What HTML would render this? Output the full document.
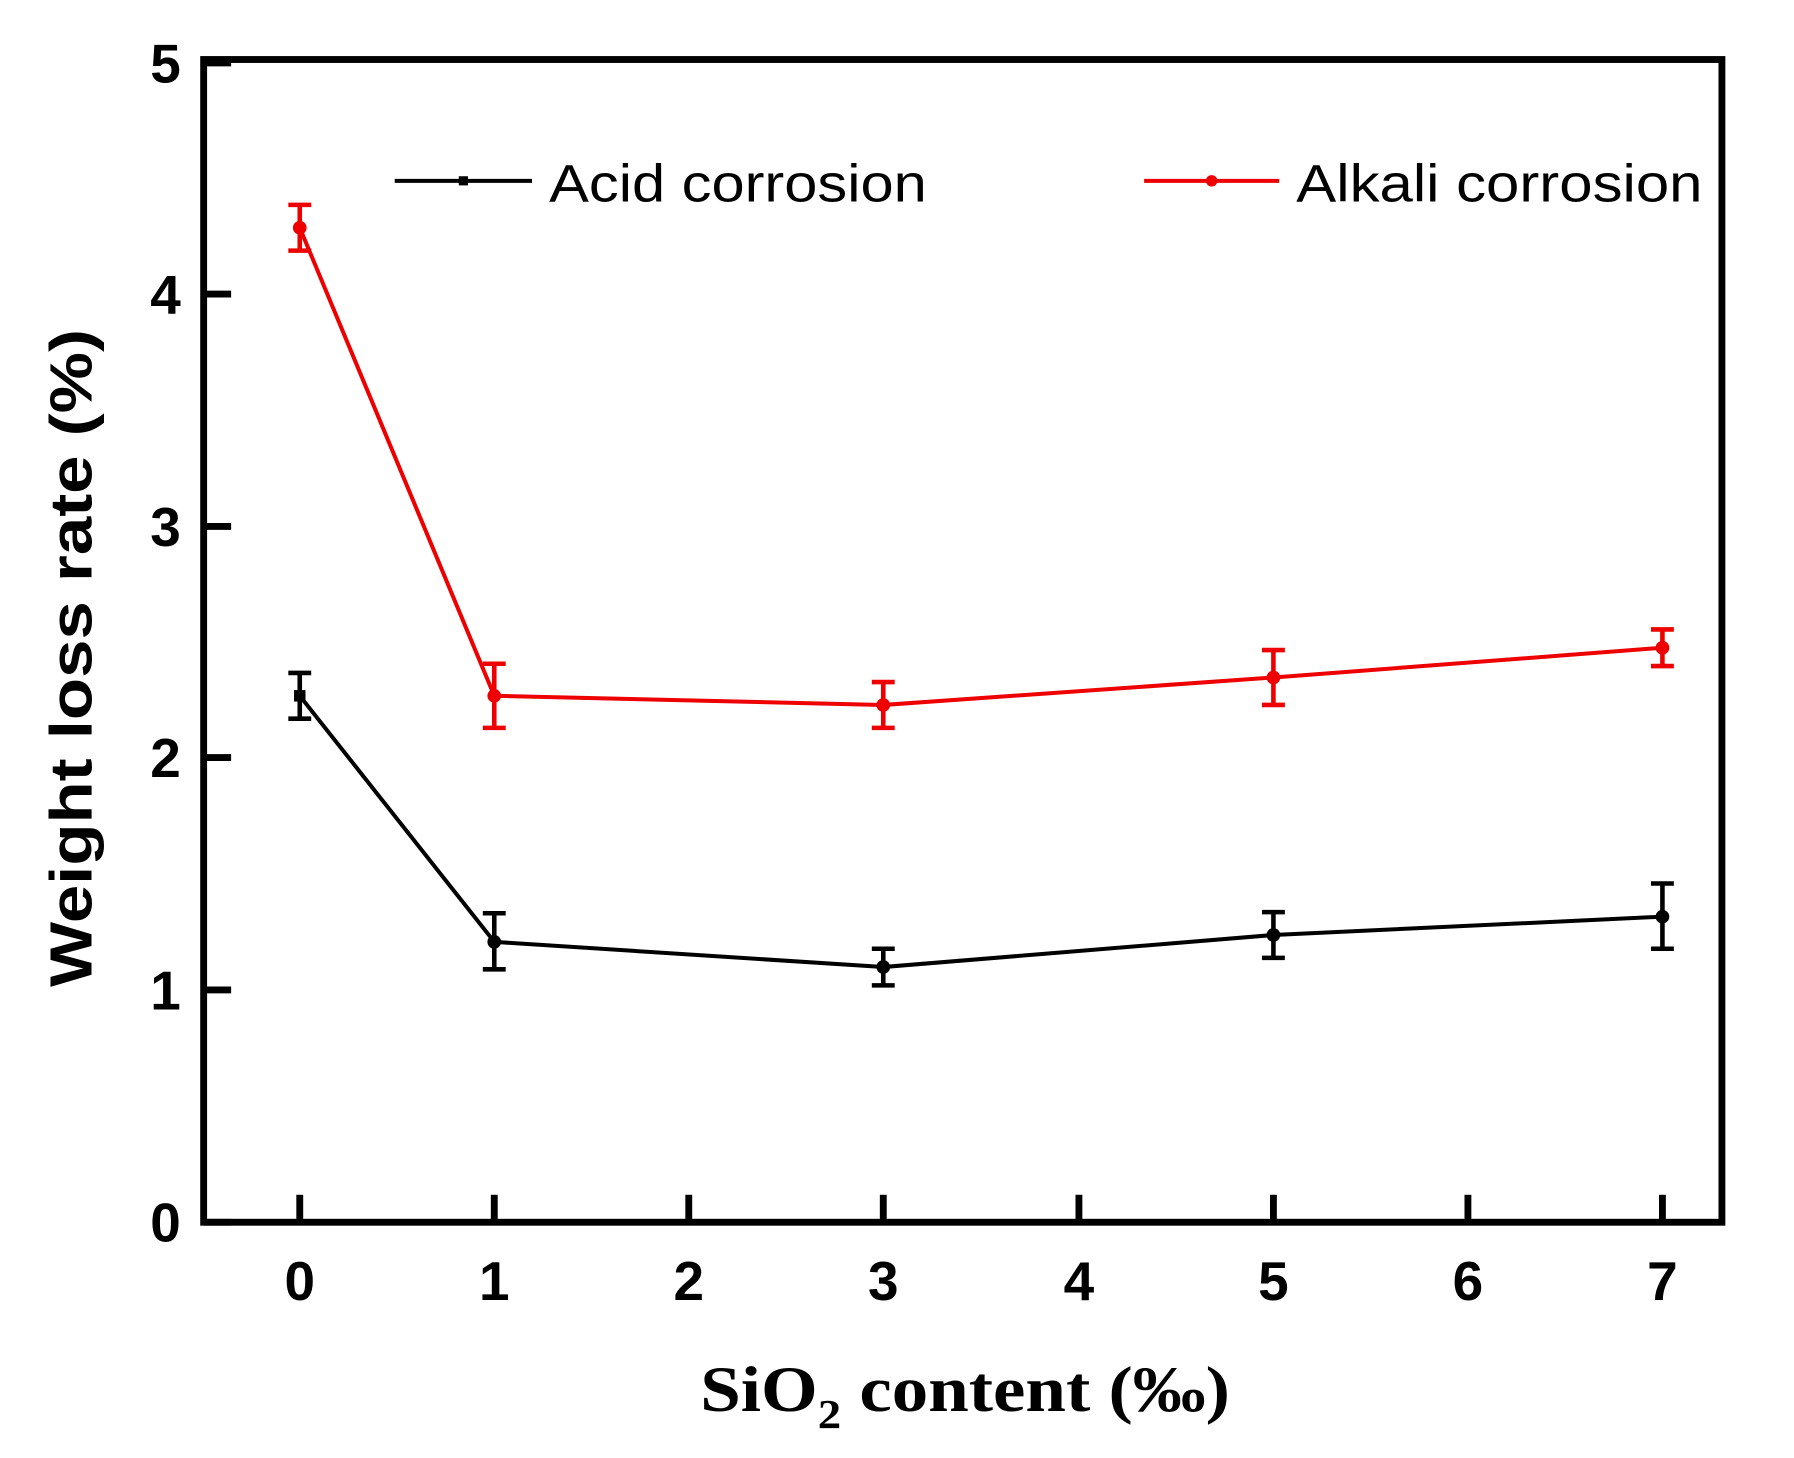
<!DOCTYPE html>
<html><head><style>html,body{margin:0;padding:0;background:#fff}svg{display:block}</style></head>
<body>
<svg width="1794" height="1458" viewBox="0 0 1568 1274" preserveAspectRatio="none" xmlns="http://www.w3.org/2000/svg">
<rect width="1568" height="1274" fill="#fff"/>
<rect x="178" y="52" width="1327" height="1016" fill="none" stroke="#000" stroke-width="6"/>
<g stroke="#000" stroke-width="6">
<line x1="178" y1="1068" x2="202" y2="1068"/>
<line x1="178" y1="865" x2="202" y2="865"/>
<line x1="178" y1="662" x2="202" y2="662"/>
<line x1="178" y1="460" x2="202" y2="460"/>
<line x1="178" y1="257" x2="202" y2="257"/>
<line x1="178" y1="55" x2="202" y2="55"/>
<line x1="262" y1="1068" x2="262" y2="1044"/>
<line x1="432" y1="1068" x2="432" y2="1044"/>
<line x1="602" y1="1068" x2="602" y2="1044"/>
<line x1="772" y1="1068" x2="772" y2="1044"/>
<line x1="943" y1="1068" x2="943" y2="1044"/>
<line x1="1113" y1="1068" x2="1113" y2="1044"/>
<line x1="1283" y1="1068" x2="1283" y2="1044"/>
<line x1="1453" y1="1068" x2="1453" y2="1044"/>
</g>
<g font-family="Liberation Sans, sans-serif" font-weight="bold" font-size="48" fill="#000">
<g text-anchor="end">
<text x="158" y="1085">0</text><text x="158" y="882">1</text><text x="158" y="679">2</text>
<text x="158" y="477">3</text><text x="158" y="274">4</text><text x="158" y="72">5</text>
</g>
<g text-anchor="middle">
<text x="262" y="1136">0</text><text x="432" y="1136">1</text><text x="602" y="1136">2</text>
<text x="772" y="1136">3</text><text x="943" y="1136">4</text><text x="1113" y="1136">5</text>
<text x="1283" y="1136">6</text><text x="1453" y="1136">7</text>
</g>
<text transform="translate(80,575) rotate(-90)" text-anchor="middle" font-size="52" textLength="575" lengthAdjust="spacingAndGlyphs">Weight loss rate (%)</text>
</g>
<text x="612" y="1233" font-family="Liberation Serif, serif" font-weight="bold" font-size="56" textLength="463" lengthAdjust="spacingAndGlyphs">SiO<tspan font-size="36" dy="15">2</tspan><tspan dy="-15"> content (‰)</tspan></text>
<line x1="345" y1="158" x2="465" y2="158" stroke="#000" stroke-width="3.5"/>
<rect x="401" y="154" width="8" height="8" fill="#000"/>
<text x="480" y="176" font-family="Liberation Sans, sans-serif" font-size="46" textLength="330" lengthAdjust="spacingAndGlyphs">Acid corrosion</text>
<line x1="1000" y1="158" x2="1118" y2="158" stroke="#e00" stroke-width="3.5"/>
<circle cx="1059" cy="158" r="5" fill="#e00"/>
<text x="1133" y="176" font-family="Liberation Sans, sans-serif" font-size="46" textLength="355" lengthAdjust="spacingAndGlyphs">Alkali corrosion</text>
<g stroke="#000" stroke-width="3.5" fill="none">
<polyline points="262,608 432,823 772,845 1113,817 1453,801"/>
<g stroke-width="4">
<path d="M262,588V628M252,588H272M252,628H272"/>
<path d="M432,798V847M422,798H442M422,847H442"/>
<path d="M772,829V861M762,829H782M762,861H782"/>
<path d="M1113,797V837M1103,797H1123M1103,837H1123"/>
<path d="M1453,772V829M1443,772H1463M1443,829H1463"/>
</g>
</g>
<g fill="#000"><rect x="257" y="603" width="10" height="10"/><circle cx="432" cy="823" r="6"/><circle cx="772" cy="845" r="6"/><circle cx="1113" cy="817" r="6"/><circle cx="1453" cy="801" r="6"/></g>
<g stroke="#e00" stroke-width="3.5" fill="none">
<polyline points="262,199 432,608 772,616 1113,592 1453,566"/>
<g stroke-width="4">
<path d="M262,179V219M252,179H272M252,219H272"/>
<path d="M432,580V636M422,580H442M422,636H442"/>
<path d="M772,596V636M762,596H782M762,636H782"/>
<path d="M1113,568V616M1103,568H1123M1103,616H1123"/>
<path d="M1453,550V582M1443,550H1463M1443,582H1463"/>
</g>
</g>
<g fill="#e00"><circle cx="262" cy="199" r="6"/><circle cx="432" cy="608" r="6"/><circle cx="772" cy="616" r="6"/><circle cx="1113" cy="592" r="6"/><circle cx="1453" cy="566" r="6"/></g>
</svg>
</body></html>
